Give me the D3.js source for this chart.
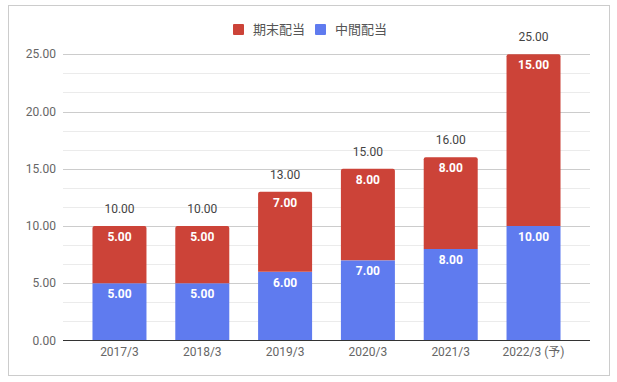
<!DOCTYPE html>
<html>
<head>
<meta charset="utf-8">
<script src="https://cdn.jsdelivr.net/npm/d3@7"></script>
<style>
  body { margin: 0; background: #fff; }
  text { font-family: Roboto, "Noto Sans CJK JP", sans-serif; }
</style>
</head>
<body>
<div id="chart"></div>
<script>
// データ
const categories = ["2017/3", "2018/3", "2019/3", "2020/3", "2021/3", "2022/3 (予)"]
const interim = [5, 5, 6, 7, 8, 10]      // 中間配当
const yearEnd = [5, 5, 7, 8, 8, 15]      // 期末配当
const yTicks = [0, 5, 10, 15, 20, 25]
const seriesNames = ["期末配当", "中間配当"]

const width = 617, height = 382
const red = "#cc4338", blue = "#5f7bef"

let svg = d3.select("#chart").append("svg")
    .attr("width", width)
    .attr("height", height)

// 外枠
svg.append("rect")
    .attr("x", 8.5).attr("y", 5.5)
    .attr("width", 601).attr("height", 370)
    .attr("fill", "#fff")
    .attr("stroke", "#cccccc")

let plotLeft = 63, plotRight = 590, plotTop = 54.3, plotBottom = 340.5
let x = d3.scaleBand().domain(categories).range([plotLeft, plotRight]).paddingInner(0.348).paddingOuter(0.356)
let y = d3.scaleLinear().domain([0, 25]).range([plotBottom, plotTop])

// 補助目盛線
let minor = d3.range(0, 25, 5 / 3).filter((d, i) => i % 3 != 0)
svg.append("g").selectAll("line").data(minor).enter().append("line")
    .attr("x1", plotLeft).attr("x2", plotRight)
    .attr("y1", d => Math.round(y(d)) + 0.5).attr("y2", d => Math.round(y(d)) + 0.5)
    .attr("stroke", "#ebebeb")
// 主目盛線
svg.append("g").selectAll("line").data(yTicks.slice(1)).enter().append("line")
    .attr("x1", plotLeft).attr("x2", plotRight)
    .attr("y1", d => Math.round(y(d)) + 0.5).attr("y2", d => Math.round(y(d)) + 0.5)
    .attr("stroke", "#cccccc")

// y軸ラベル
svg.append("g").selectAll("text").data(yTicks).enter().append("text")
    .attr("x", 56).attr("y", d => y(d) + 4)
    .attr("text-anchor", "end")
    .attr("font-size", 12).attr("fill", "#666")
    .text(d => d3.format(".2f")(d))

// 棒（上端だけ角丸）
function barPath(x0, y0, w, h, r) {
    return `M${x0},${y0 + h}V${y0 + r}Q${x0},${y0} ${x0 + r},${y0}H${x0 + w - r}Q${x0 + w},${y0} ${x0 + w},${y0 + r}V${y0 + h}Z`
}
let bw = x.bandwidth()
categories.forEach((c, i) => {
    let bx = x(c)
    // 中間配当
    svg.append("rect")
        .attr("x", bx).attr("y", y(interim[i]))
        .attr("width", bw).attr("height", y(0) - y(interim[i]))
        .attr("fill", blue)
    // 期末配当
    let t = interim[i] + yearEnd[i]
    svg.append("path")
        .attr("d", barPath(bx, y(t), bw, y(interim[i]) - y(t), 2))
        .attr("fill", red)
    // 中のラベル
    svg.append("text")
        .attr("x", bx + bw / 2).attr("y", y(interim[i]) + 15)
        .attr("text-anchor", "middle").attr("font-size", 12).attr("font-weight", "bold")
        .attr("fill", "#fff").text(d3.format(".2f")(interim[i]))
    svg.append("text")
        .attr("x", bx + bw / 2).attr("y", y(t) + 15)
        .attr("text-anchor", "middle").attr("font-size", 12).attr("font-weight", "bold")
        .attr("fill", "#fff").text(d3.format(".2f")(yearEnd[i]))
    // 合計ラベル
    svg.append("text")
        .attr("x", bx + bw / 2).attr("y", y(t) - 13)
        .attr("text-anchor", "middle").attr("font-size", 12)
        .attr("fill", "#444").text(d3.format(".2f")(t))
    // x軸ラベル
    svg.append("text")
        .attr("x", bx + bw / 2).attr("y", 356)
        .attr("text-anchor", "middle").attr("font-size", 12)
        .attr("fill", "#666").text(c)
})

// 基線
svg.append("line")
    .attr("x1", plotLeft).attr("x2", plotRight)
    .attr("y1", plotBottom).attr("y2", plotBottom)
    .attr("stroke", "#333").attr("stroke-width", 1.2)

// 凡例
let legend = svg.append("g")
let lx = [233, 315]
seriesNames.forEach((n, i) => {
    legend.append("rect")
        .attr("x", lx[i]).attr("y", 24)
        .attr("width", 11).attr("height", 11).attr("rx", 1)
        .attr("fill", i == 0 ? red : blue)
    legend.append("text")
        .attr("x", lx[i] + 20).attr("y", 34)
        .attr("font-size", 13).attr("fill", "#555")
        .text(n)
})
</script>
</body>
</html>
